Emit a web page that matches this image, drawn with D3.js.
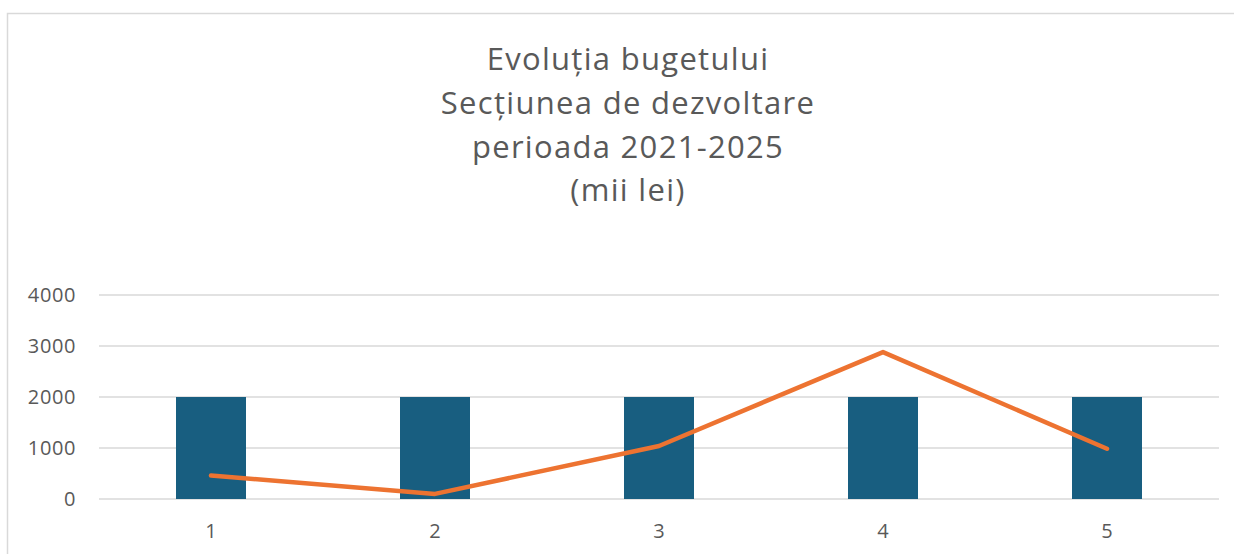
<!DOCTYPE html>
<html>
<head>
<meta charset="utf-8">
<script src="https://cdn.jsdelivr.net/npm/d3@7"></script>
<style>
  body { margin: 0; background: #fff; }
  svg { display: block; font-family: "Open Sans", sans-serif; }
</style>
</head>
<body>
<svg width="1234" height="554"></svg>
<script>
/* chart data */
var categories = ['1', '2', '3', '4', '5'];
var barValues = [2000, 2000, 2000, 2000, 2000];
var lineValues = [460, 100, 1040, 2880, 985];
var yTicks = [0, 1000, 2000, 3000, 4000];
var titleLines = ['Evoluția bugetului', 'Secțiunea de dezvoltare', 'perioada 2021-2025', '(mii lei)'];

var svg = d3.select('svg');

// outer chart border (runs off the right and bottom)
svg.append('rect')
  .attr('x', 7.5).attr('y', 13.5)
  .attr('width', 1300).attr('height', 600)
  .attr('fill', '#fff')
  .attr('stroke', '#d9d9d9')
  .attr('stroke-width', 1.5);

var x = d3.scaleBand().domain(categories).range([99, 1219]);
var y = d3.scaleLinear().domain([0, 4000]).range([499, 295]);

// title
svg.append('g').selectAll('text')
  .data(titleLines)
  .join('text')
  .attr('x', 628)
  .attr('y', function(d, i) { return 70 + i * 43.8; })
  .attr('text-anchor', 'middle')
  .attr('fill', '#595959')
  .style('font-size', '31px')
  .style('letter-spacing', '1.3px')
  .text(function(d) { return d; });

// gridlines
svg.append('g').selectAll('line')
  .data(yTicks)
  .join('line')
  .attr('x1', 99).attr('x2', 1219)
  .attr('y1', function(d) { return y(d); })
  .attr('y2', function(d) { return y(d); })
  .attr('stroke', '#d9d9d9')
  .attr('stroke-width', 1.5);

// y axis labels
var yAxis = svg.append('g')
  .attr('transform', 'translate(76,0)')
  .call(d3.axisLeft(y).tickValues(yTicks).tickFormat(d3.format('d')).tickSize(0).tickPadding(0));
yAxis.select('.domain').remove();
yAxis.selectAll('text')
  .attr('fill', '#595959')
  .style('font-size', '20px')
  .style('letter-spacing', '0.6px')
  .style('font-family', '"Open Sans", sans-serif');

// x axis labels
var xAxis = svg.append('g')
  .attr('transform', 'translate(0,524)')
  .call(d3.axisBottom(x).tickSize(0).tickPadding(0));
xAxis.select('.domain').remove();
xAxis.selectAll('text')
  .attr('fill', '#595959')
  .style('font-size', '20px')
  .style('font-family', '"Open Sans", sans-serif');

// bars
var barW = 70;
svg.append('g').selectAll('rect')
  .data(barValues)
  .join('rect')
  .attr('x', function(d, i) { return x(categories[i]) + x.bandwidth() / 2 - barW / 2; })
  .attr('y', function(d) { return y(d); })
  .attr('width', barW)
  .attr('height', function(d) { return y(0) - y(d); })
  .attr('fill', '#185E80');

// line
var line = d3.line()
  .x(function(d, i) { return x(categories[i]) + x.bandwidth() / 2; })
  .y(function(d) { return y(d); });

svg.append('path')
  .datum(lineValues)
  .attr('d', line)
  .attr('fill', 'none')
  .attr('stroke', '#ED7331')
  .attr('stroke-width', 4.5)
  .attr('stroke-linecap', 'round')
  .attr('stroke-linejoin', 'round');
</script>
</body>
</html>
